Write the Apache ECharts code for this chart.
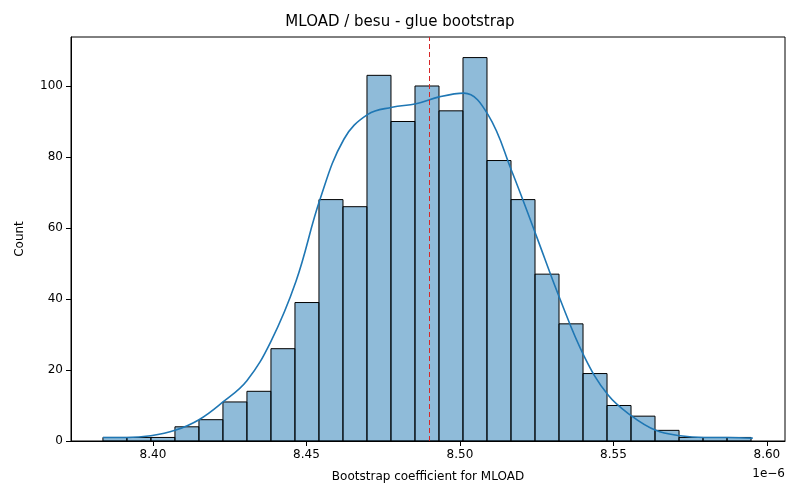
<!DOCTYPE html>
<html><head><meta charset="utf-8">
<script src="https://cdn.jsdelivr.net/npm/echarts@6/dist/echarts.min.js"></script>
<style>body{margin:0}#c{width:800px;height:500px}</style></head>
<body><div id="c"></div>
<script>
const binStart = 8.3837;
const binWidth = 0.00782;
const counts = [1,1,1,4,6,11,14,26,39,68,66,103,90,100,93,108,79,68,47,33,19,10,7,3,1,1,1];
const kdeX = [8.3837,8.3915,8.3993,8.4072,8.4150,8.4228,8.4306,8.4384,8.4466,8.4544,8.4622,8.4700,8.4779,8.4857,8.4935,8.5013,8.5091,8.5169,8.5248,8.5326,8.5404,8.5482,8.5560,8.5638,8.5717,8.5795,8.5873,8.5954];
const kdeY = [1,1,1.5,3,6,11,17,28,45,68,85,92,94,95,97,98,92,76,58,40,24,13,7,3,1.5,1,1,0.8];
const meanX = 8.4906;

const bars = counts.map((c,i)=>[binStart+i*binWidth, binStart+(i+1)*binWidth, c]);
const chart = echarts.init(document.getElementById('c'));
chart.setOption({
  animation:false,
  title:{text:'MLOAD / besu - glue bootstrap',left:'center',top:10,textStyle:{fontFamily:'DejaVu Sans',fontSize:15,fontWeight:'normal',color:'#000'}},
  grid:{left:71,right:15,top:37,bottom:59,show:true,borderColor:'#000',borderWidth:1},
  xAxis:{type:'value',min:8.3733,max:8.6059,splitNumber:5,
    name:'Bootstrap coefficient for MLOAD',nameLocation:'middle',nameGap:30,
    nameTextStyle:{fontFamily:'DejaVu Sans',fontSize:12,color:'#000'},
    axisLine:{lineStyle:{color:'#000'}},axisTick:{lineStyle:{color:'#000'}},
    axisLabel:{showMinLabel:false,showMaxLabel:false,fontFamily:'DejaVu Sans',fontSize:12,color:'#000',formatter:v=>v.toFixed(2)},
    splitLine:{show:false}},
  yAxis:{type:'value',min:0,max:113.8,interval:20,
    name:'Count',nameLocation:'middle',nameGap:45,
    nameTextStyle:{fontFamily:'DejaVu Sans',fontSize:12,color:'#000'},
    axisLine:{show:true,lineStyle:{color:'#000'}},axisTick:{show:true,lineStyle:{color:'#000'}},
    axisLabel:{showMaxLabel:false,fontFamily:'DejaVu Sans',fontSize:12,color:'#000'},
    splitLine:{show:false}},
  graphic:[{type:'text',right:15,top:468,style:{text:'1e\u22126',font:'12px DejaVu Sans',fill:'#000'}}],
  series:[
    {type:'custom',data:bars,encode:{x:[0,1],y:2},
     renderItem:(params,api)=>{
       const p0=api.coord([api.value(0),api.value(2)]);
       const p1=api.coord([api.value(1),0]);
       return {type:'rect',shape:{x:p0[0],y:p0[1],width:p1[0]-p0[0],height:p1[1]-p0[1]},
         style:{fill:'rgba(31,119,180,0.5)',stroke:'#000',lineWidth:1}};
     },z:2},
    {type:'line',data:kdeX.map((x,i)=>[x,kdeY[i]]),smooth:0.4,showSymbol:false,
     lineStyle:{color:'#1f77b4',width:1.6},z:3,
     markLine:{symbol:'none',silent:true,label:{show:false},
       lineStyle:{color:'#d62728',type:[5,3],width:1},data:[{xAxis:meanX}]}}
  ]
});
</script></body></html>
